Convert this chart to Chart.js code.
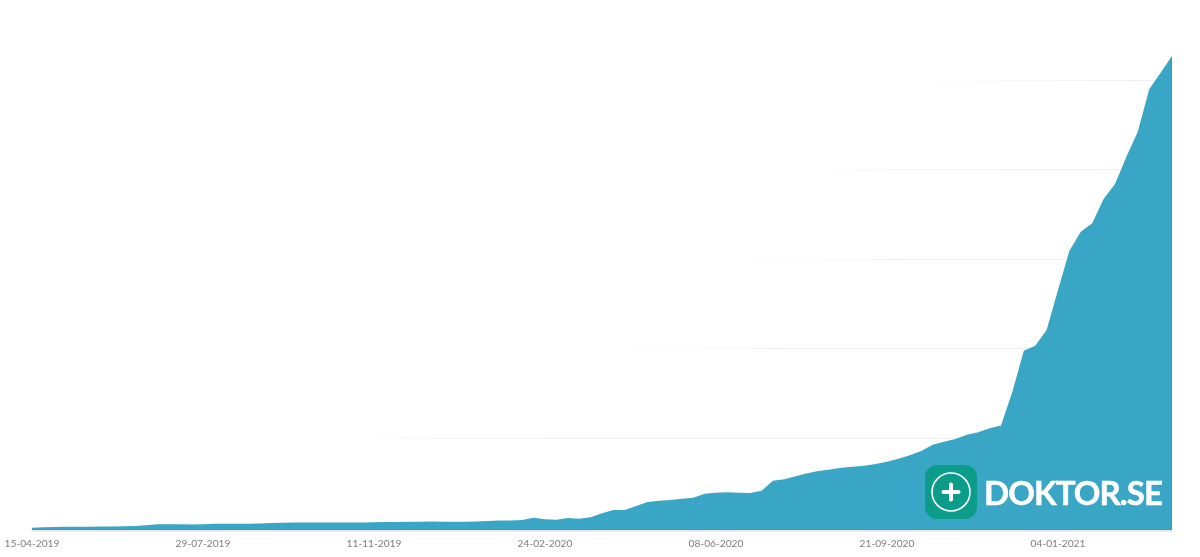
<!DOCTYPE html>
<html>
<head>
<meta charset="utf-8">
<title>Doktor.se</title>
<script src="https://cdn.jsdelivr.net/npm/chart.js@4"></script>
<style>
  html, body { margin: 0; padding: 0; background: #fff; }
  #wrap { position: relative; width: 1200px; height: 557px; overflow: hidden; }
  #logo { position: absolute; left: 925px; top: 465px; width: 52px; height: 54px; border-radius: 12px; background: #0b9d8a; }
  #logo svg { display: block; }
  #brand { position: absolute; left: 984px; top: 471px; color: #fff; font: 700 33px/42px Lato, sans-serif; letter-spacing: -0.9px; -webkit-text-stroke: 0.5px #fff; white-space: nowrap; }
</style>
</head>
<body>
<div id="wrap">
  <canvas id="chart" width="1200" height="557"></canvas>
  <div id="logo">
    <svg width="52" height="54" viewBox="0 0 52 54">
      <circle cx="26" cy="27" r="19" fill="none" stroke="#fff" stroke-width="1.6"/>
      <path d="M26 19.5v15M18.5 27h15" stroke="#fff" stroke-width="4" stroke-linecap="round"/>
    </svg>
  </div>
  <div id="brand">DOKTOR.SE</div>
</div>
<script>
const dates = [
  "15-04-2019","22-04-2019","29-04-2019","06-05-2019","13-05-2019","20-05-2019","27-05-2019","03-06-2019","10-06-2019","17-06-2019",
  "24-06-2019","01-07-2019","08-07-2019","15-07-2019","22-07-2019","29-07-2019","05-08-2019","12-08-2019","19-08-2019","26-08-2019",
  "02-09-2019","09-09-2019","16-09-2019","23-09-2019","30-09-2019","07-10-2019","14-10-2019","21-10-2019","28-10-2019","04-11-2019",
  "11-11-2019","18-11-2019","25-11-2019","02-12-2019","09-12-2019","16-12-2019","23-12-2019","30-12-2019","06-01-2020","13-01-2020",
  "20-01-2020","27-01-2020","03-02-2020","10-02-2020","17-02-2020","24-02-2020","02-03-2020","09-03-2020","16-03-2020","23-03-2020",
  "30-03-2020","06-04-2020","13-04-2020","20-04-2020","27-04-2020","04-05-2020","11-05-2020","18-05-2020","25-05-2020","01-06-2020",
  "08-06-2020","15-06-2020","22-06-2020","29-06-2020","06-07-2020","13-07-2020","20-07-2020","27-07-2020","03-08-2020","10-08-2020",
  "17-08-2020","24-08-2020","31-08-2020","07-09-2020","14-09-2020","21-09-2020","28-09-2020","05-10-2020","12-10-2020","19-10-2020",
  "26-10-2020","02-11-2020","09-11-2020","16-11-2020","23-11-2020","30-11-2020","07-12-2020","14-12-2020","21-12-2020","28-12-2020",
  "04-01-2021","11-01-2021","18-01-2021","25-01-2021","01-02-2021","08-02-2021","15-02-2021","22-02-2021","01-03-2021","08-03-2021",
  "15-03-2021"
];
const values = [
  0, 0.7, 1, 1.2, 1.2, 1.2, 1.3, 1.3, 1.7, 2,
  2.8, 3.9, 4, 3.9, 3.6, 4, 4.4, 4.6, 4.5, 4.5,
  4.7, 5.4, 5.7, 5.8, 5.8, 5.8, 5.8, 5.9, 5.9, 6,
  6.1, 6.5, 6.4, 6.7, 6.8, 6.9, 6.8, 6.8, 6.8, 7,
  7.6, 8, 8.2, 8.7, 11.3, 9.5, 9.1, 11, 10.2, 11.7,
  16.2, 19.9, 19.9, 24.4, 28.8, 30.2, 31.1, 32.5, 33.6, 38.1,
  39.2, 39.7, 39.2, 38.9, 41.5, 52.6, 54.2, 57.5, 60.9, 63.5,
  65.1, 67.2, 68.3, 69.4, 71.3, 73.9, 77.2, 81, 85.8, 92.8,
  96.2, 99.2, 104, 106.7, 111.2, 114.3, 152.1, 197.9, 203.5, 221,
  265.7, 309.6, 330.8, 340.2, 367.4, 384.1, 414.6, 442.6, 489.9, 508.5,
  527.2
];
const tickLabels = ["15-04-2019","29-07-2019","11-11-2019","24-02-2020","08-06-2020","21-09-2020","04-01-2021"];
const gridValues = [100, 200, 300, 400, 500];

// the horizontal lines fade out to the left, each one starts somewhere else
const gridFadeFrom = { 100: 320, 200: 600, 300: 720, 400: 780, 500: 900 };

// thin darker edge along the bottom and right of the area
const areaEdge = {
  id: "areaEdge",
  afterDatasetsDraw(chart) {
    const { ctx, chartArea: a } = chart;
    ctx.save();
    ctx.strokeStyle = "#2f9dbc";
    ctx.lineWidth = 1;
    ctx.beginPath();
    ctx.moveTo(a.left, a.bottom - 1.5);
    ctx.lineTo(a.right - 0.5, a.bottom - 1.5);
    ctx.lineTo(a.right - 0.5, chart.scales.y.getPixelForValue(values[values.length - 1]) + 2);
    ctx.stroke();
    ctx.restore();
  }
};

new Chart(document.getElementById("chart"), {
  type: "line",
  plugins: [areaEdge],
  data: {
    labels: dates,
    datasets: [{
      data: values,
      fill: "start",
      backgroundColor: "#3aa6c5",
      borderWidth: 0,
      pointRadius: 0,
      tension: 0
    }]
  },
  options: {
    responsive: false,
    animation: false,
    layout: { padding: { left: 32, right: 28, top: 8, bottom: 0 } },
    plugins: { legend: { display: false }, tooltip: { enabled: false } },
    scales: {
      x: {
        afterFit: (scale) => {
          scale.height = 26;
          scale.paddingLeft = 0;
          scale.paddingRight = 0;
        },
        grid: { display: false, drawTicks: false },
        border: { color: "#e8e8e8", width: 2, z: 1 },
        ticks: {
          autoSkip: false,
          maxRotation: 0,
          padding: 7,
          color: "#7d7d7d",
          font: { family: "Lato", size: 10.2 },
          callback: function (val) {
            const label = this.getLabelForValue(val);
            return tickLabels.includes(label) ? label : "";
          }
        }
      },
      y: {
        min: -3.6,
        max: 580.8,
        afterFit: (scale) => { scale.width = 0; },
        afterBuildTicks: (scale) => { scale.ticks = gridValues.map((v) => ({ value: v })); },
        border: { display: false },
        ticks: { display: false },
        grid: {
          drawTicks: false,
          color: (ctx) => {
            if (!ctx.tick) return "rgba(0,0,0,0)";
            const from = gridFadeFrom[ctx.tick.value];
            const g = ctx.chart.ctx.createLinearGradient(from, 0, from + 220, 0);
            g.addColorStop(0, "rgba(240,240,240,0)");
            g.addColorStop(1, "rgba(240,240,240,1)");
            return g;
          }
        }
      }
    }
  }
});
</script>
</body>
</html>
